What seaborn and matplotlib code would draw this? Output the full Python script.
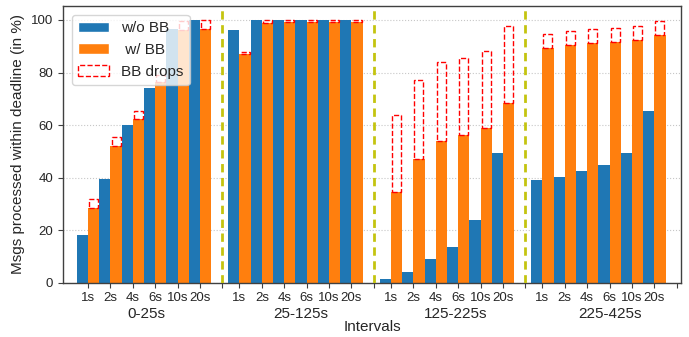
import numpy as np
import pandas as pd
import matplotlib
matplotlib.use('Agg')
import matplotlib.pyplot as plt
from matplotlib.patches import Patch
import seaborn as sns

# Data
groups = ['0-25s', '25-125s', '125-225s', '225-425s']
intervals = ['1s', '2s', '4s', '6s', '10s', '20s']

wo_bb = [18.2, 39.6, 60.2, 74.3, 96.7, 100.0,
         96.1, 100.0, 100.0, 100.0, 100.0, 100.0,
         1.5, 4.1, 9.2, 13.6, 23.7, 49.5,
         39.2, 40.3, 42.6, 44.9, 49.5, 65.2]
w_bb = [28.6, 51.9, 62.4, 76.3, 96.3, 96.4,
        87.2, 99.0, 99.4, 99.4, 99.4, 99.4,
        34.4, 47.2, 54.1, 56.1, 58.8, 68.3,
        89.2, 90.3, 91.1, 91.5, 92.3, 94.3]
# w/ BB plus the messages dropped by BB
w_bb_total = [31.8, 55.5, 65.4, 79.0, 99.8, 100.0,
              87.8, 100.0, 100.0, 100.0, 100.0, 100.0,
              64.0, 77.1, 83.9, 85.5, 88.3, 97.9,
              94.5, 95.8, 96.6, 96.9, 97.9, 99.8]

blue = '#1f77b4'
orange = '#ff7f0e'

sns.set_theme(style='ticks')
plt.rcParams['font.family'] = ['Liberation Sans', 'DejaVu Sans']

fig, ax = plt.subplots(figsize=(6.89, 3.37), dpi=100)
fig.subplots_adjust(left=0.0914, right=0.9884, bottom=0.161, top=0.982)

# x layout: 6 intervals per group, groups separated by a divider
group_step = 6.76
pos = [g * group_step + k for g in range(len(groups)) for k in range(len(intervals))]
dividers = [g * group_step + 6.0 for g in range(len(groups))]

df = pd.DataFrame({
    'pos': pos * 2,
    'value': wo_bb + w_bb,
    'series': ['w/o BB'] * len(pos) + [' w/ BB'] * len(pos),
})
sns.barplot(data=df, x='pos', y='value', hue='series', palette=[blue, orange],
            native_scale=True, width=1.0, saturation=1, errorbar=None,
            linewidth=0, legend=False, ax=ax)

# dropped messages drawn as dashed boxes on top of the w/ BB bars
drops = np.array(w_bb_total) - np.array(w_bb)
ax.bar(np.array(pos) + 0.25, drops, bottom=w_bb, width=0.4, fill=False,
       edgecolor='red', linestyle='--', linewidth=1.0, zorder=3)

for d in dividers[:-1]:
    ax.axvline(d, color='#c4c40f', linestyle='--', linewidth=2, dashes=(3, 2), zorder=4)

ax.set_xticks(pos + dividers)
ax.set_xticklabels(intervals * len(groups) + [''] * len(dividers))
ax.set_xlim(-1.12, 26.47)
ax.set_ylim(0, 105.3)
ax.set_yticks([0, 20, 40, 60, 80, 100])
ax.tick_params(axis='x', labelsize=9.5, length=3.5, width=0.8, color='0.25')
ax.tick_params(axis='y', labelsize=9.5, length=3.5, width=0.8, color='0.25')

ax.yaxis.grid(True, linestyle=':', color='0.78', linewidth=0.8)
ax.set_axisbelow(True)
for s in ax.spines.values():
    s.set_color('0.25')
    s.set_linewidth(1.0)

for g, name in enumerate(groups):
    ax.text(0.135 + 0.25 * g, -0.112, name, transform=ax.transAxes,
            ha='center', va='center', fontsize=11)

ax.set_xlabel('Intervals', fontsize=11)
ax.xaxis.set_label_coords(0.5, -0.135)
ax.set_ylabel('Msgs processed within deadline (in %)', fontsize=11)

handles = [Patch(facecolor=blue, label='w/o BB'),
           Patch(facecolor=orange, label=' w/ BB'),
           Patch(fill=False, edgecolor='red', linestyle='--', label='BB drops')]
ax.legend(handles=handles, loc='upper left', fontsize=11, frameon=True,
          framealpha=0.8, edgecolor='0.8', borderaxespad=0.6)

fig.savefig('out.png', dpi=100)
